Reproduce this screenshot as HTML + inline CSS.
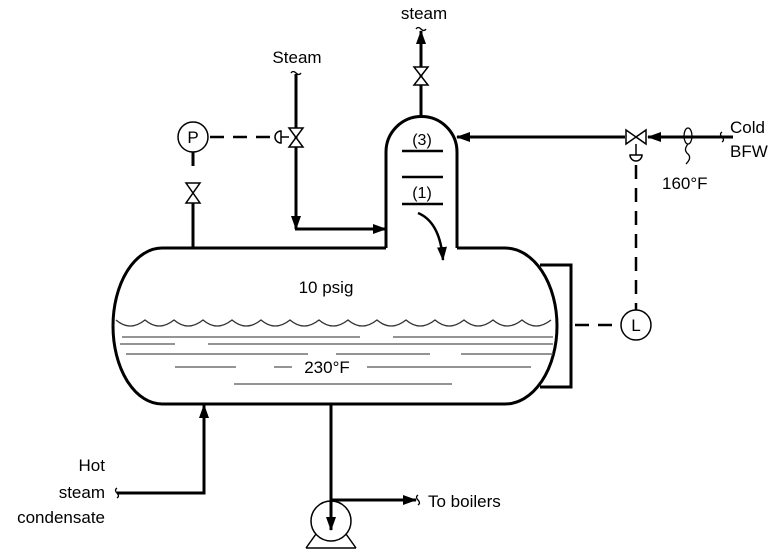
<!DOCTYPE html>
<html><head><meta charset="utf-8"><style>
html,body{margin:0;padding:0;background:#fff;}
svg{display:block;font-family:"Liberation Sans",sans-serif;}
</style></head><body>
<svg width="773" height="558" viewBox="0 0 773 558" xmlns="http://www.w3.org/2000/svg">
<defs>
<marker id="a" markerWidth="14" markerHeight="12" refX="13" refY="6" orient="auto" markerUnits="userSpaceOnUse" viewBox="0 0 14 12">
<path d="M0,1 L14,6 L0,11 Z" fill="#000"/></marker>
</defs>
<g fill="none" stroke="#000" stroke-width="3">
<path d="M162,248 H386 M457,248 H505 A52,78 0 0 1 505,404 H162 A49,78 0 0 1 162,248"/>
<path d="M386,248 V152 A35.5,35.5 0 0 1 457,152 V248"/>
<path d="M402,151 H443 M402,177 H443 M402,204 H443" stroke-width="2.5"/>
<path d="M418,213 Q440,222 443,260" stroke-width="2.5" marker-end="url(#a)"/>
<path d="M421,116 V31" marker-end="url(#a)"/>
<path d="M296,74 V229" marker-end="url(#a)"/>
<path d="M295,229 H386" marker-end="url(#a)"/>
<path d="M193,152 V166 M193,203 V248"/>
<path d="M733,137 H648" marker-end="url(#a)"/>
<path d="M625,137 H457" marker-end="url(#a)"/>
<path d="M540,265 H571 V387 H540"/>
<path d="M331,500 H416" marker-end="url(#a)"/>
<path d="M117,493 H204 V405" marker-end="url(#a)"/>
</g>
<g fill="none" stroke="#000" stroke-width="2.5" stroke-dasharray="14,9">
<path d="M210,137 H272"/>
<path d="M636,165 V310"/>
<path d="M575,325 H621"/>
</g>
<g fill="#fff" stroke="#000" stroke-width="1.5">
<path d="M414,67 L428,67 L414,85 L428,85 Z"/>
<path d="M289,128 L303,128 L289,147 L303,147 Z"/>
<path d="M186,183 L200,183 L186,203 L200,203 Z"/>
<path d="M626,130 L626,144 L646,130 L646,144 Z"/>
<circle cx="193" cy="137" r="15"/>
<circle cx="636" cy="325" r="15"/>
<path d="M306,548 L316,534 M346,534 L356,548 M306,548 H356" fill="none"/>
<circle cx="331" cy="521" r="20"/>
<path d="M281,131 A6,6 0 0 0 281,143 Z"/>
<path d="M281,137 H289" fill="none"/>
<path d="M630,155 A6,6 0 0 0 642,155 Z"/>
<path d="M636,144 V155" fill="none"/>
</g>
<path d="M331,404 V530" stroke="#000" stroke-width="3" fill="none" marker-end="url(#a)"/>
<g fill="none" stroke="#000" stroke-width="1.3">
<path d="M416,29 q2,-3 5,0 q3,3 5,0"/>
<path d="M291,73 q2,-3 5,0 q3,3 5,0"/>
<path d="M722,132 q-3,2 0,5 q3,3 0,5"/>
<path d="M117,488 q-3,2 0,5 q3,3 0,5"/>
<path d="M418,495 q-3,2 0,5 q3,3 0,5"/>
<ellipse cx="688" cy="136" rx="4" ry="8"/>
<path d="M688,144 q-5,6 0,10 q4,4 -2,10"/>
</g>
<g fill="none" stroke="#555" stroke-width="1.3">
<path d="M116,320 q14,12 29,0 q14,12 29,0 q14,12 29,0 q14,12 29,0 q14,12 29,0 q14,12 29,0 q14,12 29,0 q14,12 29,0 q14,12 29,0 q14,12 29,0 q14,12 29,0 q14,12 29,0 q14,12 29,0 q14,12 29,0 q14,12 29,0" stroke="#333"/>
<path d="M122,337 H360 M393,337 H553 M120,344 H175 M208,344 H553 M126,354 H308 M336,354 H430 M461,354 H553 M175,367 H236 M274,367 H292 M367,367 H531 M234,384 H452"/>
</g>
<g font-size="17" fill="#000">
<text x="424" y="19" text-anchor="middle">steam</text>
<text x="297" y="63" text-anchor="middle">Steam</text>
<text x="193" y="143" text-anchor="middle">P</text>
<text x="636" y="331" text-anchor="middle">L</text>
<text x="422" y="145" text-anchor="middle" font-size="16">(3)</text>
<text x="422" y="198" text-anchor="middle" font-size="16">(1)</text>
<text x="326" y="293" text-anchor="middle">10 psig</text>
<text x="327" y="373" text-anchor="middle">230°F</text>
<text x="730" y="133">Cold</text>
<text x="730" y="157">BFW</text>
<text x="662" y="189">160°F</text>
<text x="105" y="471" text-anchor="end">Hot</text>
<text x="105" y="498" text-anchor="end">steam</text>
<text x="105" y="523" text-anchor="end">condensate</text>
<text x="428" y="507">To boilers</text>
</g>
</svg>
</body></html>
